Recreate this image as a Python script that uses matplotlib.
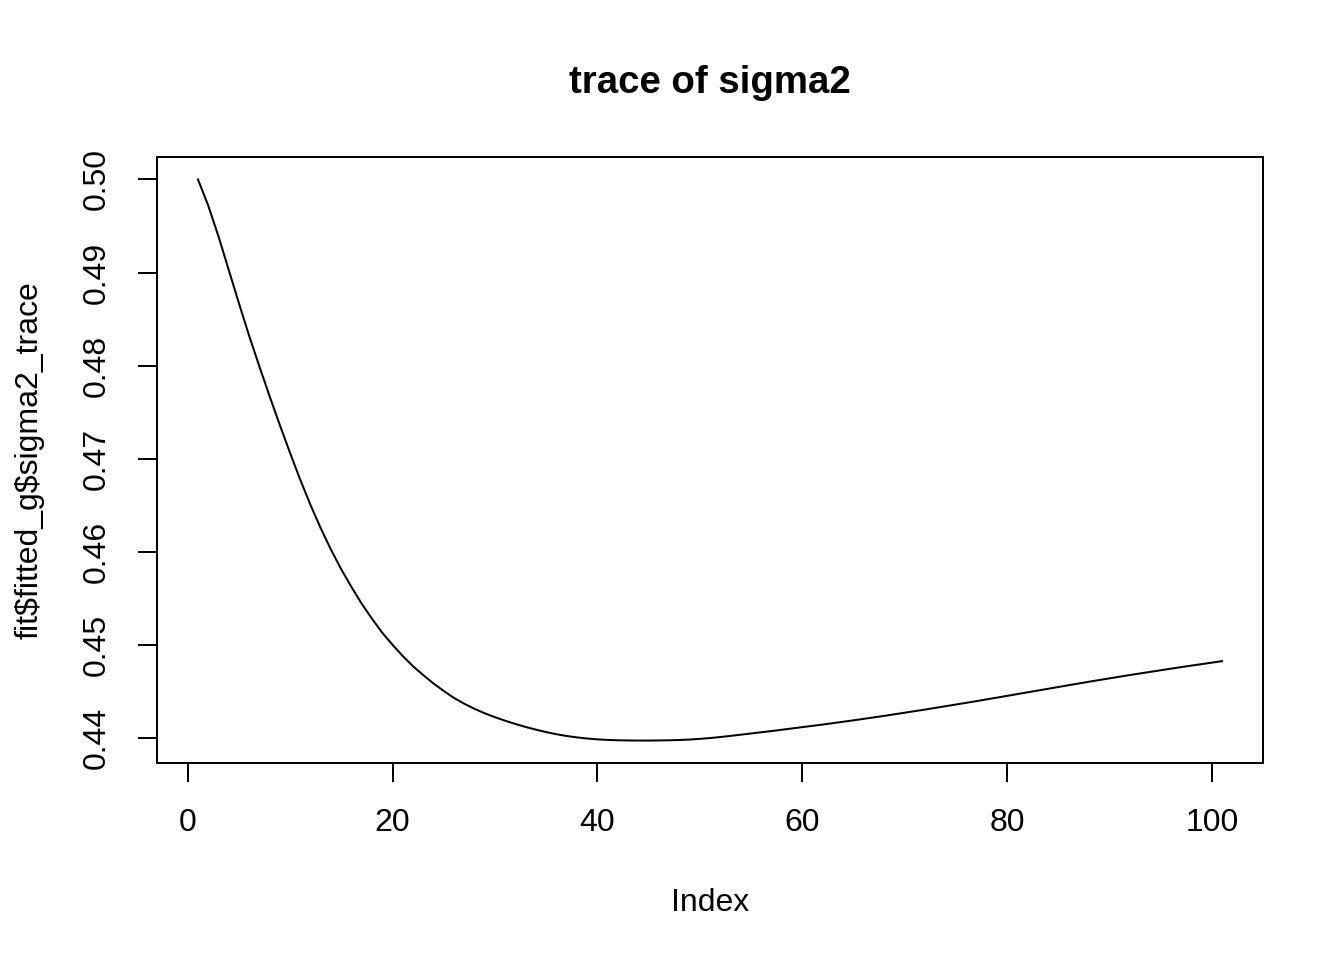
import numpy as np
import matplotlib
matplotlib.use("Agg")
import matplotlib.pyplot as plt

plt.rcParams["font.family"] = ["Liberation Sans", "DejaVu Sans"]

# values, one per iteration
sigma2_trace = [
    0.50000, 0.49720, 0.49390, 0.49030, 0.48670, 0.48320, 0.47990, 0.47670, 0.47360, 0.47060,
    0.46770, 0.46500, 0.46250, 0.46020, 0.45810, 0.45620, 0.45440, 0.45280, 0.45130, 0.45000,
    0.44880, 0.44770, 0.44675, 0.44585, 0.44505, 0.44430, 0.44368, 0.44313, 0.44265, 0.44223,
    0.44185, 0.44150, 0.44118, 0.44089, 0.44063, 0.44040, 0.44021, 0.44006, 0.43994, 0.43985,
    0.43979, 0.43975, 0.43973, 0.43972, 0.43972, 0.43973, 0.43975, 0.43978, 0.43983, 0.43990,
    0.43999, 0.44010, 0.44022, 0.44035, 0.44048, 0.44061, 0.44074, 0.44088, 0.44102, 0.44116,
    0.44130, 0.44144, 0.44159, 0.44174, 0.44189, 0.44205, 0.44221, 0.44237, 0.44254, 0.44271,
    0.44288, 0.44305, 0.44323, 0.44341, 0.44359, 0.44377, 0.44395, 0.44414, 0.44433, 0.44452,
    0.44471, 0.44490, 0.44509, 0.44528, 0.44547, 0.44566, 0.44585, 0.44604, 0.44622, 0.44640,
    0.44658, 0.44676, 0.44693, 0.44710, 0.44727, 0.44744, 0.44761, 0.44777, 0.44793, 0.44809,
    0.44825,
]
index = np.arange(1, len(sigma2_trace) + 1)

x_ticks = [0, 20, 40, 60, 80, 100]
y_ticks = [0.44, 0.45, 0.46, 0.47, 0.48, 0.49, 0.50]

fig = plt.figure(figsize=(7, 5), dpi=192)
ax = fig.add_axes([157 / 1344, 1 - 763 / 960, (1263 - 157) / 1344, (763 - 157) / 960])

ax.plot(index, sigma2_trace, color="black", linewidth=0.75)

# R style 4% padding around the data range
lo, hi = min(sigma2_trace), max(sigma2_trace)
pad = 0.04 * (hi - lo)
ax.set_ylim(lo - pad, hi + pad)
ax.set_xlim(1 - 0.04 * 100, 101 + 0.04 * 100)

ax.set_xticks(x_ticks)
ax.set_yticks(y_ticks)
ax.set_yticklabels(["%.2f" % v for v in y_ticks], rotation=90, va="center")
ax.tick_params(direction="out", length=7, width=0.75, labelsize=12, pad=10)

for s in ax.spines.values():
    s.set_linewidth(0.75)

ax.set_xlabel("Index", fontsize=12, labelpad=18.5)
ax.set_ylabel(r"fit\$fitted_g\$sigma2_trace", fontsize=12, labelpad=14)
ax.set_title("trace of sigma2", fontsize=14.4, fontweight="bold", pad=24)

fig.savefig("out.png", dpi=192)
